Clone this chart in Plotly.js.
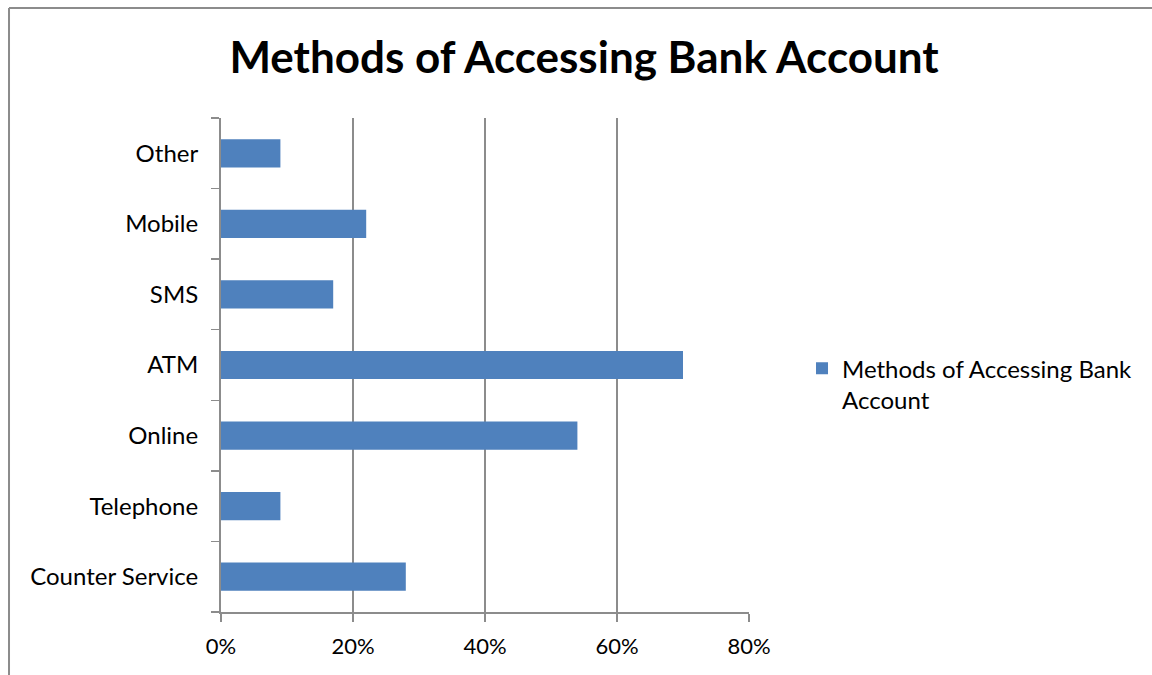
<!DOCTYPE html>
<html>
<head>
<meta charset="utf-8">
<script src="https://cdn.plot.ly/plotly-3.0.1.min.js"></script>
<style>
  html, body { margin: 0; padding: 0; background: #fff; overflow: hidden; }
  #chart { width: 1152px; height: 675px; }
</style>
</head>
<body>
<div id="chart"></div>
<script>
const categories = ["Counter Service", "Telephone", "Online", "ATM", "SMS", "Mobile", "Other"];
const values = [0.28, 0.09, 0.54, 0.70, 0.17, 0.22, 0.09];
const seriesName = "Methods of Accessing Bank<br>Account";
const chartTitle = "Methods of Accessing Bank Account";
const xTickVals = [0, 0.2, 0.4, 0.6, 0.8];
const xTickText = ["0%", "20%", "40%", "60%", "80%"];

const font = "Lato, 'Open Sans', sans-serif";
const frameColor = "#8c8c8c";

const trace = {
  type: "bar",
  orientation: "h",
  y: categories,
  x: values,
  name: seriesName,
  marker: { color: "#4F81BD" },
  showlegend: true,
  hoverinfo: "x+y"
};

const layout = {
  width: 1152,
  height: 675,
  margin: { l: 221, r: 403, t: 118, b: 63 },
  paper_bgcolor: "#ffffff",
  plot_bgcolor: "#ffffff",
  title: {
    text: "<b>" + chartTitle + "</b>",
    font: { family: font, size: 44, color: "#000000" },
    x: 0.507, xref: "container", xanchor: "center",
    y: 0.914, yref: "container", yanchor: "middle"
  },
  bargap: 0.6,
  showlegend: true,
  legend: {
    x: 1.1004, xanchor: "left",
    y: 0.538, yanchor: "top",
    valign: "top",
    font: { family: font, size: 24, color: "#000000" },
    bgcolor: "rgba(0,0,0,0)",
    itemwidth: 30
  },
  shapes: [
    { type: "line", xref: "paper", yref: "paper", x0: -0.4015, x1: -0.4015, y0: 1.2227, y1: -0.2,
      line: { color: frameColor, width: 2 } },
    { type: "line", xref: "paper", yref: "paper", x0: -0.4015, x1: 1.9, y0: 1.2227, y1: 1.2227,
      line: { color: frameColor, width: 2 } }
  ],
  xaxis: {
    range: [0, 0.8],
    tickvals: xTickVals,
    ticktext: xTickText,
    showgrid: true,
    gridcolor: "#8c8c8c",
    gridwidth: 1.5,
    zeroline: false,
    showline: true,
    linecolor: "#8c8c8c",
    linewidth: 2,
    ticks: "outside",
    ticklen: 8,
    tickcolor: "#8c8c8c",
    tickwidth: 1.5,
    ticklabelstandoff: 6,
    tickfont: { family: font, size: 22, color: "#000000" },
    fixedrange: true
  },
  yaxis: {
    type: "category",
    categoryorder: "array",
    categoryarray: categories,
    showgrid: false,
    zeroline: false,
    showline: true,
    linecolor: "#8c8c8c",
    linewidth: 2,
    ticks: "outside",
    tickson: "boundaries",
    ticklen: 8,
    tickcolor: "#8c8c8c",
    tickwidth: 1.5,
    ticklabelstandoff: 16,
    tickfont: { family: font, size: 24, color: "#000000" },
    fixedrange: true
  }
};

Plotly.newPlot("chart", [trace], layout, { displayModeBar: false, staticPlot: true });
</script>
</body>
</html>
